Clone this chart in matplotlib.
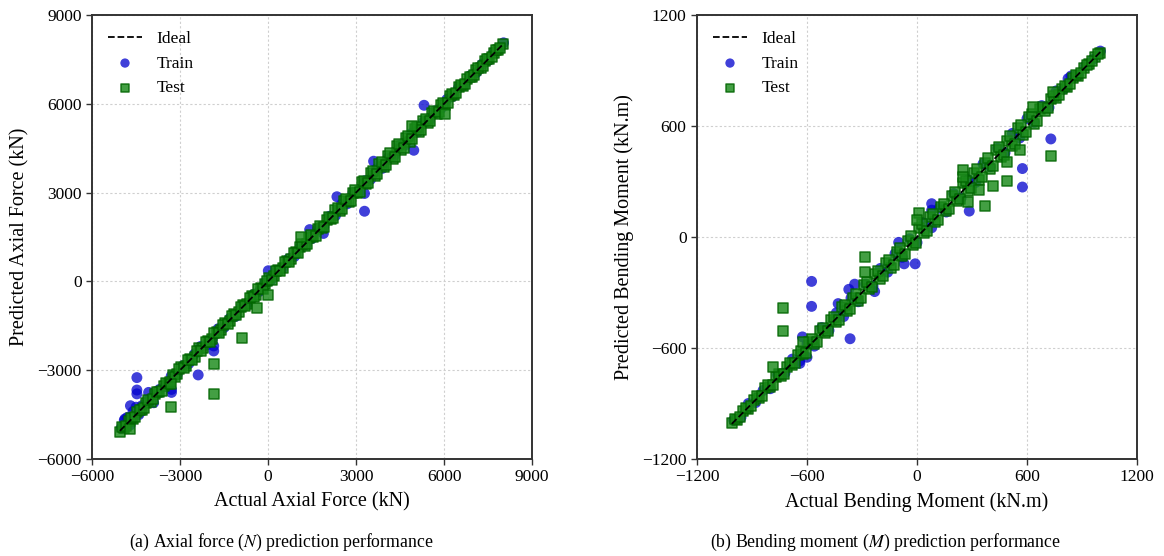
import numpy as np
import matplotlib.pyplot as plt

plt.rcParams['font.family'] = ['Liberation Serif', 'DejaVu Serif']
plt.rcParams['mathtext.fontset'] = 'stix'

# ---- (a) axial force, kN ----
train_n_actual = [-5000, -4900, -4800, -4700, -4600, -4500, -4400, -4300, -4100, -3900,
                  -3700, -3500, -3300, -3100, -2900, -2700, -2500, -2300, -2100, -1900,
                  -1700, -1500, -1300, -1100, -900, -700, -500, -300, -100, 100,
                  300, 500, 700, 900, 1100, 1300, 1500, 1700, 1900, 2100,
                  2300, 2500, 2700, 2900, 3100, 3300, 3500, 3700, 3900, 4100,
                  4300, 4500, 4700, 4900, 5100, 5300, 5500, 5700, 5900, 6100,
                  6300, 6500, 6700, 6900, 7100, 7300, 7500, 7700, 7900, 8030,
                  # off-line points
                  5320, 3290, 3290, 2350, 4970, 1420, 1890, -4470, -4470, -4470,
                  -4070, -2380, -3290, -3290, -1850, -1850, -4690, -4880, 10, 3600]
train_n_pred = [-4950, -4700, -4600, -4850, -4400, -4250, -4500, -4200, -4000, -4100,
                -3650, -3550, -3200, -3150, -2850, -2780, -2450, -2200, -2150, -1950,
                -1600, -1560, -1250, -1180, -850, -740, -450, -340, -50, 40,
                350, 450, 760, 840, 1160, 1240, 1450, 1780, 1850, 2200,
                2220, 2600, 2620, 3000, 3020, 3400, 3450, 3800, 3820, 4180,
                4250, 4600, 4620, 5000, 5050, 5380, 5450, 5760, 5850, 6150,
                6250, 6550, 6650, 6950, 7050, 7340, 7460, 7740, 7880, 8060,
                5950, 2370, 2970, 2860, 4430, 1750, 1620, -3250, -3670, -3800,
                -3750, -3160, -3750, -3650, -2350, -2180, -4200, -4650, 360, 4060]

test_n_actual = [-5050, -4900, -4750, -4600, -4450, -4300, -4150, -4000, -3850, -3700,
                 -3550, -3400, -3250, -3100, -2950, -2800, -2650, -2500, -2350, -2200,
                 -2050, -1900, -1750, -1600, -1450, -1300, -1150, -1000, -850, -700,
                 -550, -400, -250, -100, 50, 200, 350, 500, 650, 800,
                 950, 1100, 1250, 1400, 1550, 1700, 1850, 2000, 2150, 2300,
                 2450, 2600, 2750, 2900, 3050, 3200, 3350, 3500, 3650, 3800,
                 3950, 4100, 4250, 4400, 4550, 4700, 4850, 5000, 5150, 5300,
                 5450, 5600, 5750, 5900, 6050, 6200, 6350, 6500, 6650, 6800,
                 6950, 7100, 7250, 7400, 7550, 7700, 7850, 8000,
                 -4975, -4825, -4675, -4525, -4375, -4225, -4075, -3925, -3775, -3625,
                 -3475, -3325, -3175, -3025, -2875, -2725, -2575, -2425, -2275, -2125,
                 -1975, -1825, -1675, -1525, -1375, -1225, -1075, -925, -775, -625,
                 -475, -325, -175, -25, 125, 275, 425, 575, 725, 875,
                 1025, 1175, 1325, 1475, 1625, 1775, 1925, 2075, 2225, 2375,
                 2525, 2675, 2825, 2975, 3125, 3275, 3425, 3575, 3725, 3875,
                 4025, 4175, 4325, 4475, 4625, 4775, 4925, 5075, 5225, 5375,
                 5525, 5675, 5825, 5975, 6125, 6275, 6425, 6575, 6725, 6875,
                 7025, 7175, 7325, 7475, 7625, 7775, 7925,
                 # off-line points
                 -890, -1850, -1850, -3290, 10, -390, 1110, 4910, 6030, -3290, -4700]
test_n_pred = [-5080, -4950, -4720, -4650, -4400, -4330, -4120, -4060, -3800, -3730,
               -3520, -3460, -3150, -3130, -2900, -2850, -2620, -2540, -2250, -2260,
               -2000, -1950, -1700, -1640, -1420, -1330, -1110, -1040, -800, -760,
               -500, -450, -220, -80, 120, 170, 380, 460, 700, 760,
               1000, 1150, 1200, 1480, 1500, 1780, 1800, 2080, 2100, 2420,
               2380, 2700, 2680, 3000, 2980, 3350, 3280, 3650, 3550, 3950,
               3850, 4250, 4150, 4580, 4450, 4850, 4700, 5150, 5050, 5420,
               5350, 5680, 5650, 5950, 5950, 6250, 6300, 6560, 6600, 6850,
               6900, 7140, 7200, 7440, 7500, 7730, 7820, 8020,
               -4930, -4870, -4620, -4580, -4330, -4280, -4020, -3980, -3720, -3690,
               -3420, -3390, -3240, -2960, -2930, -2660, -2640, -2360, -2340, -2060,
               -2040, -1760, -1740, -1470, -1430, -1160, -1130, -870, -830, -570,
               -530, -270, -240, 30, 60, 340, 360, 640, 670, 950,
               960, 1260, 1250, 1560, 1540, 1870, 1840, 2170, 2130, 2480,
               2430, 2790, 2720, 3100, 3020, 3400, 3320, 3720, 3620, 4020,
               3920, 4330, 4200, 4640, 4520, 4900, 4800, 5220, 5100, 5480,
               5420, 5760, 5720, 6040, 6030, 6330, 6360, 6630, 6660, 6920,
               6970, 7220, 7280, 7510, 7590, 7810, 7900,
               -1920, -2800, -3820, -4230, -460, -890, 1500, 5240, 5670, -3480, -5000]

# ---- (b) bending moment, kN.m ----
train_m_actual = [-1000, -960, -920, -880, -840, -800, -760, -720, -680, -640,
                  -600, -560, -520, -480, -440, -400, -360, -320, -280, -240,
                  -200, -160, -120, -80, -40, 0, 40, 80, 120, 160,
                  200, 240, 280, 320, 360, 400, 440, 480, 520, 560,
                  600, 640, 680, 720, 760, 800, 840, 880, 920, 960, 1000,
                  # off-line points
                  730, 575, 575, 285, 80, 80, -70, -10, -100, -575,
                  -575, -365, -340, -372, -625, -600, -639, -430, -231, 824]
train_m_pred = [-990, -975, -900, -895, -830, -820, -745, -735, -660, -670,
                -580, -590, -490, -505, -410, -430, -330, -350, -255, -265,
                -170, -190, -90, -110, -10, -30, 75, 50, 155, 135,
                235, 210, 310, 295, 395, 380, 480, 455, 560, 535,
                640, 620, 710, 700, 790, 800, 870, 875, 925, 960, 1005,
                530, 370, 270, 140, 180, 145, -145, -145, -29, -240,
                -375, -550, -255, -283, -540, -650, -683, -360, -295, 856]

test_m_actual = [-1010, -980, -950, -920, -890, -860, -830, -800, -770, -740,
                 -710, -680, -650, -620, -590, -560, -530, -500, -470, -440,
                 -410, -380, -350, -320, -290, -260, -230, -200, -170, -140,
                 -110, -80, -50, -20, 10, 40, 70, 100, 130, 160,
                 190, 220, 250, 280, 310, 340, 370, 400, 430, 460,
                 490, 520, 550, 580, 610, 640, 670, 700, 730, 760,
                 790, 820, 850, 880, 910, 940, 970, 1000,
                 -995, -965, -935, -905, -875, -845, -815, -785, -755, -725,
                 -695, -665, -635, -605, -575, -545, -515, -485, -455, -425,
                 -395, -365, -335, -305, -275, -245, -215, -185, -155, -125,
                 -95, -65, -35, -5, 25, 55, 85, 115, 145, 175,
                 205, 235, 265, 295, 325, 355, 385, 415, 445, 475,
                 505, 535, 565, 595, 625, 655, 685, 715, 745, 775,
                 805, 835, 865, 895, 925, 955, 985,
                 # off-line points
                 730, 490, 490, 370, 415, 340, 280, 250, 250, 563,
                 633, 744, 10, 0, -285, -285, -730, -730, -785, -623]
test_m_pred = [-1005, -990, -940, -930, -880, -870, -815, -810, -755, -750,
               -700, -690, -640, -635, -570, -580, -510, -520, -450, -460,
               -380, -400, -330, -345, -260, -280, -200, -225, -140, -165,
               -80, -100, -20, -45, 50, 20, 110, 80, 160, 140,
               220, 195, 290, 250, 345, 310, 400, 370, 470, 430,
               520, 490, 590, 550, 650, 610, 690, 680, 745, 750,
               800, 810, 860, 870, 915, 935, 975, 995,
               -985, -975, -925, -915, -862, -858, -800, -798, -740, -742,
               -680, -682, -615, -628, -550, -568, -492, -510, -430, -448,
               -368, -390, -308, -330, -245, -270, -185, -210, -122, -150,
               -62, -90, 5, -30, 70, 30, 125, 90, 180, 150,
               245, 205, 305, 265, 365, 325, 425, 385, 485, 445,
               545, 505, 605, 565, 665, 625, 705, 695, 760, 765,
               818, 825, 876, 885, 932, 950, 990,
               440, 305, 405, 170, 275, 255, 190, 360, 325, 470,
               703, 784, 130, 90, -110, -190, -385, -510, -705, -566]

panels = [
    (train_n_actual, train_n_pred, test_n_actual, test_n_pred,
     'Actual Axial Force (kN)', 'Predicted Axial Force (kN)',
     [-6000, -3000, 0, 3000, 6000, 9000],
     r'(a) Axial force ($N$) prediction performance'),
    (train_m_actual, train_m_pred, test_m_actual, test_m_pred,
     'Actual Bending Moment (kN.m)', 'Predicted Bending Moment (kN.m)',
     [-1200, -600, 0, 600, 1200],
     r'(b) Bending moment ($M$) prediction performance'),
]

fig = plt.figure(figsize=(11.64, 5.56), dpi=100)
ax_rects = [[92 / 1164, 97 / 556, 440 / 1164, 444 / 556],
            [697 / 1164, 97 / 556, 440 / 1164, 444 / 556]]
caption_x = [281 / 1164, 885 / 1164]

for k, (tr_x, tr_y, te_x, te_y, xl, yl, ticks, cap) in enumerate(panels):
    ax = fig.add_axes(ax_rects[k])
    sc_tr = ax.scatter(tr_x, tr_y, s=62, marker='o', color='mediumblue',
                       alpha=0.75, edgecolors='none', label='Train', zorder=2)
    sc_te = ax.scatter(te_x, te_y, s=56, marker='s', facecolor='#1a8a1a',
                       edgecolor='darkgreen', linewidths=1.1, alpha=0.82,
                       label='Test', zorder=2)
    lo = min(min(tr_x), min(te_x))
    hi = max(max(tr_x), max(te_x))
    ln, = ax.plot([lo, hi], [lo, hi], 'k--', lw=1.3, label='Ideal', zorder=3)

    ax.set_xlim(ticks[0], ticks[-1])
    ax.set_ylim(ticks[0], ticks[-1])
    ax.set_xticks(ticks)
    ax.set_yticks(ticks)
    ax.tick_params(labelsize=12.5, width=1.0, length=4, color='#333333')
    ax.grid(True, linestyle=(0, (2, 2)), color='#cfcfcf', linewidth=0.8)
    ax.set_axisbelow(True)
    for sp in ax.spines.values():
        sp.set_linewidth(1.4)
        sp.set_color('#333333')
    ax.set_xlabel(xl, fontsize=14.5, labelpad=5)
    ax.set_ylabel(yl, fontsize=14.5, labelpad=6)
    ax.legend(handles=[ln, sc_tr, sc_te], loc='upper left', frameon=False,
              fontsize=12.5, handlelength=2.0, markerscale=0.85)
    fig.text(caption_x[k], 14 / 556, cap, ha='center', va='center', fontsize=12.8)

fig.savefig('out.png', dpi=100)
